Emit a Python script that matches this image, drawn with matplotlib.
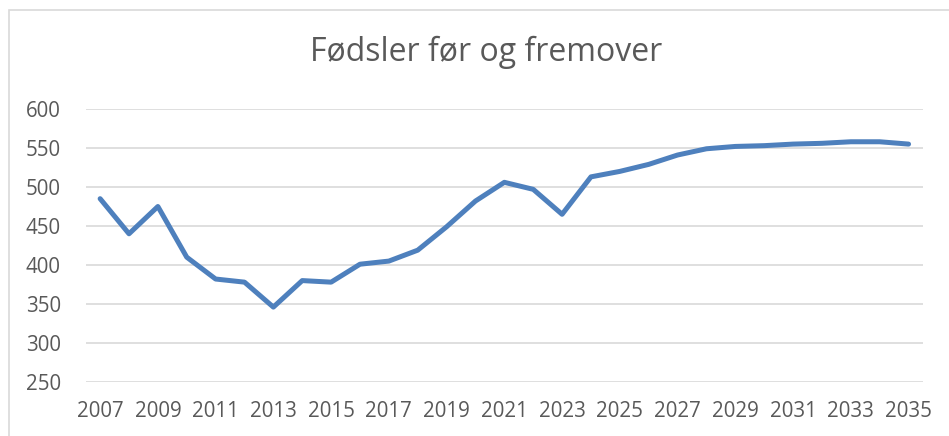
import matplotlib.pyplot as plt
from matplotlib.patches import Rectangle

plt.rcParams['font.family'] = ['Open Sans', 'DejaVu Sans']

# births per year, history + projection
years = list(range(2007, 2036))
births = [485, 440, 475, 410, 382, 378, 346, 380, 378, 401,
          405, 419, 449, 482, 506, 497, 465, 513, 520, 529,
          541, 549, 552, 553, 555, 556, 558, 558, 555]
tick_years = list(range(2007, 2036, 2))
y_ticks = [250, 300, 350, 400, 450, 500, 550, 600]
title = 'Fødsler før og fremover'

text_col = '#595959'
grid_col = '#d9d9d9'
line_col = '#4e80bd'


def main():
    fig = plt.figure(figsize=(9.49, 4.36), dpi=100)
    ax = fig.add_axes([0.0903, 0.1239, 0.9726 - 0.0903, 0.75 - 0.1239])

    # chart frame (runs off the right and bottom edge of the crop)
    fig.patches.append(Rectangle((9 / 949, -0.2), 1.2, 1.2 - 10 / 436,
                                 transform=fig.transFigure, fill=False,
                                 edgecolor=grid_col, linewidth=1.2))

    ax.plot(years, births, color=line_col, linewidth=3.6,
            solid_joinstyle='round', solid_capstyle='round', zorder=3)

    ax.set_xlim(2006.5, 2035.5)
    ax.set_ylim(250, 600)
    ax.set_yticks(y_ticks)
    ax.set_xticks(tick_years)
    ax.yaxis.grid(True, color=grid_col, linewidth=1.2)
    ax.set_axisbelow(True)
    for s in ax.spines.values():
        s.set_visible(False)
    ax.tick_params(axis='both', length=0, labelsize=14.8, labelcolor=text_col)
    ax.tick_params(axis='y', pad=18)
    ax.tick_params(axis='x', pad=14)

    fig.text(486 / 949, 1 - 52 / 436, title, ha='center', va='center',
             fontsize=23, color=text_col)

    plt.savefig('out.png', dpi=100)


if __name__ == "__main__":
    main()
